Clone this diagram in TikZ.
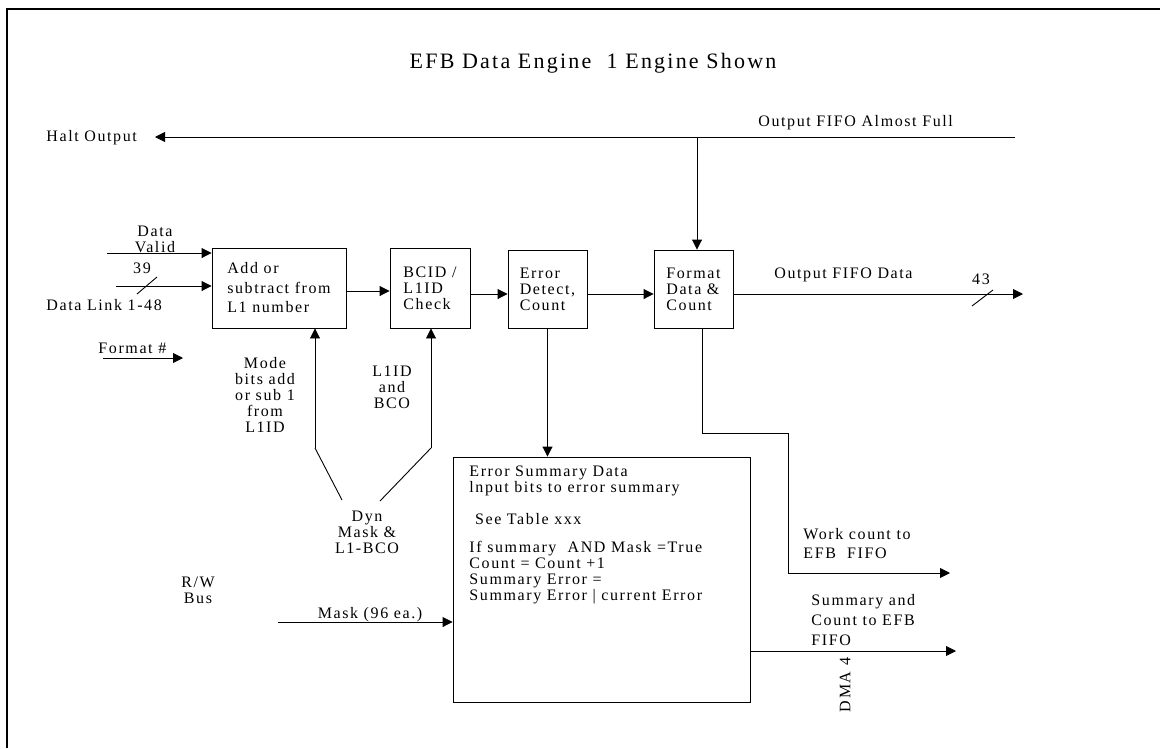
\documentclass[tikz,border=0pt]{standalone}
\usepackage{fontspec}
\setmainfont{Liberation Serif}
\newfontfamily\dgfont[LetterSpace=10]{Liberation Serif}
\usetikzlibrary{arrows.meta}
\tikzset{
  blk/.style={draw,align=left,inner sep=0pt},
  lbl/.style={inner sep=0pt,align=center},
  sig/.style={-{Triangle[length=10pt,width=10pt]}},
}
\begin{document}
\begin{tikzpicture}[x=1pt,y=-1pt,line width=.9pt,font=\dgfont\fontsize{16}{16}\selectfont]
  \useasboundingbox (0,0) rectangle (1160,748);
  \draw[line width=2.2pt] (7,748)--(7,9)--(1160,9);
  \node[lbl,anchor=base] (title) at (593,68) {\fontsize{22}{22}\selectfont EFB Data Engine\ \ 1 Engine Shown};
  % blocks
  \node[blk,minimum width=134pt,minimum height=80pt] (add) at (279,288) {Add or\\[3.5pt]subtract from\\[3.5pt]L1 number};
  \node[blk,minimum width=80pt,minimum height=80pt] (bcid) at (430,288) {BCID /\\L1ID\\Check};
  \node[blk,minimum width=79pt,minimum height=78pt] (err) at (547.5,289) {Error\\Detect,\\Count};
  \node[blk,minimum width=79pt,minimum height=78pt] (fmt) at (693.5,289) {Format\\Data \&\\Count};
  \node[blk,minimum width=297pt,minimum height=245pt] (sum) at (601.5,579.5) {};
  \node[lbl,align=left,anchor=north west] (sumtxt) at (469,465.5) {Error Summary Data\\lnput bits to error summary\\[16pt]\ See Table xxx\\[12pt]If summary\ \ AND Mask =True\\Count = Count +1\\Summary Error =\\Summary Error | current Error};
  % labels
  \node[lbl,anchor=base west] (halt) at (46,141) {Halt Output};
  \node[lbl,anchor=base west] (almfull) at (758,126) {Output FIFO Almost Full};
  \node[lbl,anchor=base west] (ofd) at (774,278) {Output FIFO Data};
  \node[lbl,anchor=base] (w43) at (981,284) {43};
  \node[lbl,anchor=north] (dvalid) at (155,225.5) {\fontsize{16}{15}\selectfont Data\\Valid};
  \node[lbl,anchor=base] (w39) at (142,273) {39};
  \node[lbl,anchor=base west] (dlink) at (46,310) {Data Link 1-48};
  \node[lbl,anchor=base west] (fmtno) at (98,353) {Format \#};
  \node[lbl,anchor=north] (mode) at (265,356.5) {\fontsize{16}{15.5}\selectfont Mode\\bits add\\or sub 1\\from\\L1ID};
  \node[lbl,anchor=north] (l1bco) at (392,365.5) {\fontsize{16}{15}\selectfont L1ID\\and\\BCO};
  \node[lbl,anchor=north] (dyn) at (367,510.5) {Dyn\\Mask \&\\L1-BCO};
  \node[lbl,anchor=base] (mask) at (370,618) {Mask (96 ea.)};
  \node[lbl,anchor=north] (rw) at (198,576) {R/W\\Bus};
  \node[lbl,align=left,anchor=north west] (wcount) at (803,527.5) {Work count to\\[3pt]EFB\ \ FIFO};
  \node[lbl,align=left,anchor=north west] (scount) at (811,593.5) {Summary and\\[4pt]Count to EFB\\[4pt]FIFO};
  \node[lbl,rotate=90] (dma) at (845,685) {DMA 4};
  % connectors
  \coordinate (fifo) at (1015,137);
  \coordinate (haltend) at (155,137);
  \coordinate (afjoin) at (697,137);
  \draw[sig] (fifo) -- (haltend);
  \draw[sig] (afjoin) -- (afjoin |- fmt.north);
  \coordinate (dvin) at (107,253);
  \coordinate (dlin) at (116,286);
  \draw[sig] (dvin) -- (dvin -| add.west);
  \draw[sig] (dlin) -- (dlin -| add.west);
  \draw (137,294) -- (157,277);
  \coordinate (fin) at (103,358);
  \coordinate (fout) at (183,358);
  \draw[sig] (fin) -- (fout);
  \draw[sig] ([yshift=-3pt]add.east) -- ([yshift=-3pt]bcid.west);
  \draw[sig] (bcid.east |- 0,294) -- (err.west |- 0,294);
  \draw[sig] (err.east |- 0,294) -- (fmt.west |- 0,294);
  \coordinate (ofdend) at (1023,294);
  \draw[sig] (fmt.east |- ofdend) -- (ofdend);
  \draw (972,306) -- (993,290);
  \coordinate (modeb) at (315,448);
  \coordinate (bcob) at (431,448);
  \coordinate (dynl) at (342,500);
  \coordinate (dynr) at (380,501);
  \draw[sig] (modeb) -- (modeb |- add.south);
  \draw[sig] (bcob) -- (bcob |- bcid.south);
  \draw (dynl) -- (modeb);
  \draw (dynr) -- (bcob);
  \draw[sig] (err.south) -- (err.south |- sum.north);
  \coordinate (wcend) at (950,573);
  \draw[sig] ([xshift=8.5pt]fmt.south) |- (788,433) |- (wcend);
  \coordinate (scend) at (956,651);
  \draw[sig] (sum.east |- scend) -- (scend);
  \coordinate (maskin) at (278,622);
  \draw[sig] (maskin) -- (maskin -| sum.west);
\end{tikzpicture}
\end{document}
